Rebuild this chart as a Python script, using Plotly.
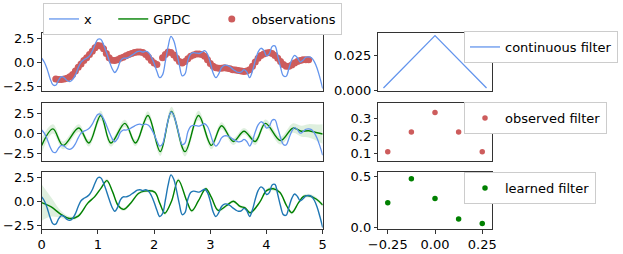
import plotly.graph_objects as go

# ---------------- data ----------------
t_grid = [round(i * 0.05, 2) for i in range(101)]
x_signal = [0.45, 0.0, -0.75, -1.7, -2.35, -2.4, -1.85, -1.5, -1.6, -1.9,
            -2.0, -1.8, -1.3, -0.55, 0.05, 0.3, 0.45, 0.7, 1.2, 1.9,
            2.45, 2.45, 1.9, 1.1, 0.2, -0.6, -1.05, -0.65, 0.15, 0.45,
            0.45, 0.55, 0.75, 0.95, 1.15, 1.2, 1.1, 1.2, 1.05, 0.6,
            -0.1, -0.95, -1.6, -1.3, 0.1, 1.7, 2.75, 2.3, 1.1, -0.3,
            -1.4, -1.2, 0.2, 0.9, 1.05, 1.0, 0.95, 1.1, 1.25, 0.9,
            0.0, -1.1, -1.6, -1.2, -0.55, -0.3, -0.3, -0.45, -0.7, -0.9,
            -1.05, -1.0, -0.75, -1.0, -1.6, -0.9, 0.2, 1.1, 1.5, 1.3,
            0.7, 0.9, 1.7, 1.75, 0.7, -0.5, -1.4, -1.45, -0.6, 0.3,
            0.75, 0.5, 0.05, 0.25, 0.55, 0.6, 0.5, 0.1, -0.6, -1.6,
            -2.75]

obs_t = [0.25, 0.30, 0.35, 0.40, 0.45, 0.50, 0.55, 0.60, 0.65, 0.70,
         0.75, 0.80, 0.85, 0.90, 0.95, 1.00, 1.05, 1.10, 1.15, 1.20,
         1.25, 1.30, 1.35, 1.40, 1.45, 1.50, 1.55, 1.60, 1.65, 1.70,
         1.75, 1.80, 1.85, 1.90, 1.95, 2.00, 2.05,
         2.15, 2.20, 2.25, 2.30, 2.35, 2.40, 2.45, 2.50, 2.55, 2.60,
         2.65, 2.70, 2.75, 2.80, 2.85, 2.90, 2.95, 3.00, 3.05, 3.10,
         3.15, 3.20, 3.25, 3.30, 3.35, 3.40, 3.45, 3.50, 3.55, 3.60,
         3.65, 3.70, 3.75, 3.80, 3.85, 3.90, 3.95, 4.00, 4.05, 4.10,
         4.15, 4.20, 4.25, 4.30, 4.35, 4.40, 4.45, 4.50, 4.55, 4.60,
         4.65, 4.70, 4.75]
obs_y = [-1.75, -1.8, -1.8, -1.75, -1.65, -1.5, -1.25, -0.9, -0.5, -0.15,
         0.2, 0.5, 0.85, 1.2, 1.55, 1.8, 1.75, 1.45, 0.95, 0.5,
         0.25, 0.2, 0.3, 0.45, 0.55, 0.7, 0.85, 0.95, 1.05, 1.1,
         1.1, 1.05, 0.85, 0.55, 0.2, -0.05, -0.2,
         0.5, 0.85, 1.1, 1.05, 0.8, 0.45, 0.1, -0.05, 0.1, 0.4,
         0.65, 0.8, 0.9, 0.9, 0.85, 0.65, 0.3, -0.1, -0.4, -0.55,
         -0.6, -0.6, -0.55, -0.6, -0.65, -0.75, -0.8, -0.85, -0.9, -0.95,
         -0.9, -0.75, -0.4, 0.05, 0.45, 0.75, 0.9, 1.0, 1.05, 0.95,
         0.75, 0.45, 0.1, -0.2, -0.4, -0.4, -0.25, -0.05, 0.1, 0.2,
         0.3, 0.3, 0.3]

gpdc_t = [0.0, 0.2, 0.38, 0.66, 0.84, 1.05, 1.23, 1.48, 1.67, 1.89,
          2.11, 2.31, 2.55, 2.79, 3.02, 3.2, 3.41, 3.6, 3.8, 3.98,
          4.25, 4.47, 4.62, 4.75, 4.9, 5.0]
gpdc_mean = [-1.5, 0.6, -1.5, 0.7, -1.2, 2.3, -1.2, 1.3, -1.2, 2.3,
             -2.3, 2.8, -2.3, 2.3, -1.5, 1.0, -1.0, 0.3, -1.0, 1.3,
             -0.9, 0.7, 0.3, 0.35, 0.1, -0.05]
gpdc_std = [1.0, 0.6, 0.5, 0.5, 0.45, 0.6, 0.45, 0.45, 0.4, 0.55,
            0.55, 0.6, 0.6, 0.6, 0.5, 0.45, 0.45, 0.4, 0.45, 0.5,
            0.5, 0.6, 0.7, 0.85, 1.05, 1.25]

learn_t = [0.0, 0.17, 0.35, 0.5, 0.65, 0.82, 0.94, 1.06, 1.16, 1.26,
           1.36, 1.46, 1.59, 1.72, 1.83, 2.01, 2.1, 2.19, 2.31, 2.43,
           2.58, 2.67, 2.79, 2.92, 3.02, 3.14, 3.29, 3.41, 3.53, 3.62,
           3.71, 3.88, 4.0, 4.12, 4.24, 4.36, 4.45, 4.57, 4.66, 4.77,
           4.89, 5.0]
learn_mean = [-0.15, -0.6, -1.4, -1.8, -1.55, -0.2, 0.45, 1.4, 2.15, 1.0,
              -0.45, -0.85, -0.15, 0.8, 1.05, 0.95, -0.2, -1.25, 0.0, 2.2,
              0.05, -1.0, 0.05, 1.3, 0.4, -0.95, -0.45, 0.0, -0.55, -0.7,
              -1.2, -0.1, 1.1, 1.3, 0.9, -0.5, -1.2, -0.15, 0.5, 0.55,
              0.2, -0.4]
learn_std = [1.9, 1.0, 0.35, 0.2, 0.18, 0.15, 0.15, 0.15, 0.2, 0.15,
             0.15, 0.18, 0.15, 0.15, 0.15, 0.15, 0.15, 0.18, 0.15, 0.2,
             0.15, 0.18, 0.15, 0.18, 0.15, 0.18, 0.15, 0.15, 0.15, 0.15,
             0.18, 0.15, 0.18, 0.2, 0.18, 0.15, 0.18, 0.15, 0.18, 0.2,
             0.2, 0.2]

cont_t = [-0.2727, 0.0, 0.2727]
cont_y = [0.0014, 0.0393, 0.0014]
filt_t = [-0.25, -0.125, 0.0, 0.125, 0.25]
observed_filter = [0.111, 0.222, 0.333, 0.222, 0.111]
learned_filter = [0.242, 0.48, 0.284, 0.082, 0.039]

# ---------------- styles ----------------
BLUE = "#6495ED"
DBLUE = "#1f77b4"
RED = "#CD5C5C"
GREEN = "#008000"
BAND = "rgba(0,128,0,0.13)"
FONT = "DejaVu Sans"
W, H = 623, 254

fig = go.Figure()


def band(tt, mean, std, xa, ya):
    up = [m + s for m, s in zip(mean, std)]
    lo = [m - s for m, s in zip(mean, std)]
    fig.add_trace(go.Scatter(x=tt, y=up, mode="lines", line=dict(width=0, shape="spline"),
                             hoverinfo="skip", showlegend=False, xaxis=xa, yaxis=ya))
    fig.add_trace(go.Scatter(x=tt, y=lo, mode="lines", line=dict(width=0, shape="spline"),
                             fill="tonexty", fillcolor=BAND, hoverinfo="skip",
                             showlegend=False, xaxis=xa, yaxis=ya))


# row 1
fig.add_trace(go.Scatter(x=obs_t, y=obs_y, mode="markers", name="observations",
                         marker=dict(color=RED, size=7), legend="legend", legendrank=3,
                         xaxis="x", yaxis="y"))
fig.add_trace(go.Scatter(x=t_grid, y=x_signal, mode="lines", name="x\u00a0\u00a0\u00a0\u00a0",
                         line=dict(color=BLUE, width=1.3, shape="spline"),
                         legend="legend", legendrank=1, xaxis="x", yaxis="y"))
# row 2
band(gpdc_t, gpdc_mean, gpdc_std, "x3", "y3")
fig.add_trace(go.Scatter(x=gpdc_t, y=gpdc_mean, mode="lines", name="GPDC\u00a0\u00a0\u00a0\u00a0",
                         line=dict(color=GREEN, width=1.4, shape="spline"),
                         legend="legend", legendrank=2, xaxis="x3", yaxis="y3"))
fig.add_trace(go.Scatter(x=t_grid, y=x_signal, mode="lines", showlegend=False,
                         line=dict(color=BLUE, width=1.3, shape="spline"),
                         xaxis="x3", yaxis="y3"))
# row 3
band(learn_t, learn_mean, learn_std, "x5", "y5")
fig.add_trace(go.Scatter(x=learn_t, y=learn_mean, mode="lines", showlegend=False,
                         line=dict(color=GREEN, width=1.4, shape="spline"),
                         xaxis="x5", yaxis="y5"))
fig.add_trace(go.Scatter(x=t_grid, y=x_signal, mode="lines", showlegend=False,
                         line=dict(color=DBLUE, width=1.4, shape="spline"),
                         xaxis="x5", yaxis="y5"))
# right column
fig.add_trace(go.Scatter(x=cont_t, y=cont_y, mode="lines", name="continuous filter",
                         line=dict(color=BLUE, width=1.3), legend="legend2",
                         xaxis="x2", yaxis="y2"))
fig.add_trace(go.Scatter(x=filt_t, y=observed_filter, mode="markers", name="observed filter",
                         marker=dict(color=RED, size=5.5), legend="legend3",
                         xaxis="x4", yaxis="y4"))
fig.add_trace(go.Scatter(x=filt_t, y=learned_filter, mode="markers", name="learned filter",
                         marker=dict(color=GREEN, size=5.5), legend="legend4",
                         xaxis="x6", yaxis="y6"))

# ---------------- layout ----------------
LX = [41.7 / W, 322.7 / W]
RX = [378.3 / W, 491.7 / W]
ROWS = [(33, 90.7), (103.3, 160.7), (171.7, 229)]


def ydom(r):
    top, bot = ROWS[r]
    return [1 - bot / H, 1 - top / H]


axbase = dict(showline=True, mirror=True, linecolor="#333", linewidth=1,
              showgrid=False, zeroline=False, ticks="outside", ticklen=3.5,
              tickwidth=1, tickcolor="#333", automargin=False,
              tickfont=dict(family=FONT, size=13, color="black"))

lay = dict(
    width=W, height=H, margin=dict(l=0, r=0, t=0, b=0, pad=0, autoexpand=False),
    paper_bgcolor="white", plot_bgcolor="white",
    font=dict(family=FONT, size=13, color="black"),
    showlegend=True,
)
ranges_left = [[-2.97, 3.11], [-3.45, 3.85], [-2.9, 3.08]]
for r in range(3):
    xl = "xaxis" if r == 0 else f"xaxis{2 * r + 1}"
    yl = "yaxis" if r == 0 else f"yaxis{2 * r + 1}"
    xr = f"xaxis{2 * r + 2}"
    yname_l = "y" if r == 0 else f"y{2 * r + 1}"
    xname_l = "x" if r == 0 else f"x{2 * r + 1}"
    last = r == 2
    lay[xl] = dict(axbase, domain=LX, range=[0, 5], anchor=yname_l,
                   showticklabels=last, ticks="outside" if last else "",
                   tickvals=[0, 1, 2, 3, 4, 5])
    lay[yl] = dict(axbase, domain=ydom(r), range=ranges_left[r], anchor=xname_l,
                   tickvals=[-2.5, 0, 2.5], tickformat=".1f")
    lay[xr] = dict(axbase, domain=RX, range=[-0.3, 0.3], anchor=f"y{2 * r + 2}",
                   showticklabels=last, ticks="outside" if last else "",
                   tickvals=[-0.25, 0, 0.25], tickformat=".2f")
lay["yaxis2"] = dict(axbase, domain=ydom(0), range=[-0.0005, 0.0412], anchor="x2",
                     tickvals=[0, 0.025], tickformat=".3f")
lay["yaxis4"] = dict(axbase, domain=ydom(1), range=[0.06, 0.385], anchor="x4",
                     tickvals=[0.1, 0.2, 0.3], tickformat=".1f")
lay["yaxis6"] = dict(axbase, domain=ydom(2), range=[-0.016, 0.549], anchor="x6",
                     tickvals=[0, 0.5], tickformat=".1f")

legbase = dict(bgcolor="white", bordercolor="#cccccc", borderwidth=1,
               font=dict(family=FONT, size=13, color="black"),
               traceorder="normal", orientation="h",
               xanchor="left", yanchor="top", xref="paper", yref="paper")
lay["legend"] = dict(legbase, x=43 / W, y=1 - 3 / H)
lay["legend2"] = dict(legbase, x=464 / W, y=1 - 31 / H)
lay["legend3"] = dict(legbase, x=464 / W, y=1 - 102 / H)
lay["legend4"] = dict(legbase, x=464 / W, y=1 - 172 / H)

fig.update_layout(**lay)
fig.write_html("out.html", config={"displayModeBar": False},
               post_script="document.body.style.margin='0px';document.body.style.overflow='hidden';")
